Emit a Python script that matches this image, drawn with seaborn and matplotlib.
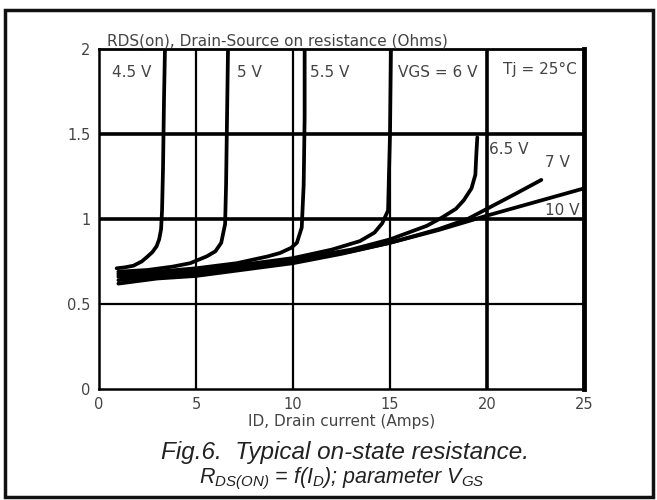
import matplotlib
matplotlib.use("Agg")
import matplotlib.pyplot as plt
import seaborn as sns
import pandas as pd
from matplotlib.patches import Rectangle

# ---- data ----
vgs_labels = ["4.5 V", "5 V", "5.5 V", "VGS = 6 V", "6.5 V", "7 V", "10 V"]

id_45 = [0.91, 1.3, 1.77, 2.2, 2.46, 2.75, 2.97, 3.1, 3.2, 3.25, 3.3, 3.35, 3.4]
r_45 = [0.71, 0.715, 0.725, 0.75, 0.775, 0.805, 0.84, 0.88, 0.94, 1.05, 1.3, 1.7, 2.0]

id_5 = [1.0, 2.5, 3.8, 4.7, 5.55, 6.0, 6.3, 6.5, 6.55, 6.6, 6.65]
r_5 = [0.69, 0.70, 0.72, 0.74, 0.78, 0.81, 0.86, 0.97, 1.2, 1.6, 2.0]

id_55 = [1.0, 3.0, 5.0, 7.1, 7.9, 8.7, 9.33, 9.9, 10.2, 10.45, 10.55, 10.6, 10.6]
r_55 = [0.68, 0.69, 0.71, 0.74, 0.76, 0.78, 0.80, 0.83, 0.86, 0.95, 1.2, 1.6, 2.0]

id_6 = [1.0, 3.0, 5.0, 8.0, 10.0, 12.0, 13.45, 14.2, 14.6, 14.9, 15.0, 15.05]
r_6 = [0.67, 0.68, 0.70, 0.74, 0.77, 0.82, 0.87, 0.92, 0.975, 1.05, 1.5, 2.0]

id_65 = [1.0, 3.0, 5.0, 8.0, 10.0, 13.0, 15.0, 16.9, 17.7, 18.4, 18.8, 19.2, 19.4, 19.45, 19.5]
r_65 = [0.66, 0.675, 0.69, 0.73, 0.76, 0.82, 0.88, 0.96, 1.01, 1.06, 1.11, 1.18, 1.26, 1.38, 1.48]

id_7 = [1.0, 3.0, 5.0, 8.0, 10.0, 13.0, 15.0, 17.5, 19.0, 20.0, 21.5, 22.8]
r_7 = [0.64, 0.665, 0.68, 0.72, 0.75, 0.81, 0.86, 0.94, 1.00, 1.06, 1.15, 1.23]

id_10 = [1.0, 3.0, 5.0, 7.0, 10.0, 12.5, 15.0, 17.5, 20.0, 22.5, 25.0]
r_10 = [0.62, 0.65, 0.665, 0.695, 0.74, 0.795, 0.86, 0.935, 1.02, 1.10, 1.18]

curves = [(id_45, r_45), (id_5, r_5), (id_55, r_55), (id_6, r_6),
          (id_65, r_65), (id_7, r_7), (id_10, r_10)]

x_ticks = [0, 5, 10, 15, 20, 25]
y_ticks = [0, 0.5, 1, 1.5, 2]
y_tick_labels = ["0", "0.5", "1", "1.5", "2"]

rows = []
for lab, (xs, ys) in zip(vgs_labels, curves):
    for i, (xv, yv) in enumerate(zip(xs, ys)):
        rows.append({"vgs": lab, "order": i, "id": xv, "rds": yv})
df = pd.DataFrame(rows)

sns.set_style("white")
plt.rcParams["font.family"] = ["DejaVu Sans"]
plt.rcParams["mathtext.fontset"] = "custom"
plt.rcParams["mathtext.it"] = "Liberation Sans:italic"
plt.rcParams["mathtext.rm"] = "Liberation Sans:italic"

fig = plt.figure(figsize=(6.57, 5.0), dpi=100)
ax = fig.add_axes([99 / 657, 1 - 389 / 500, 485 / 657, 340 / 500])

# grid first, then the curves on top
for xv in x_ticks[1:-1]:
    ax.axvline(xv, color="black", lw=2.6 if xv == 20 else 1.6, zorder=1)
for yv in y_ticks[1:-1]:
    ax.axhline(yv, color="black", lw=2.6 if yv in (1, 1.5) else 1.6, zorder=1)

for lab in vgs_labels:
    sub = df[df["vgs"] == lab]
    sns.lineplot(data=sub, x="id", y="rds", estimator=None, sort=False,
                 color="black", lw=2.7, ax=ax, legend=False, zorder=3)

small = 11
grey = "#444444"
ax.set_xlim(0, 25)
ax.set_ylim(0, 2)
ax.set_xticks(x_ticks)
ax.set_yticks(y_ticks)
ax.set_yticklabels(y_tick_labels)
ax.tick_params(length=0, labelsize=10.5, labelcolor=grey, pad=6)
ax.set_xlabel("ID, Drain current (Amps)", fontsize=small, color=grey, labelpad=1)
ax.set_ylabel("")
for side in ["left", "bottom"]:
    ax.spines[side].set_linewidth(1.8)
ax.spines["top"].set_linewidth(2.0)
ax.spines["right"].set_linewidth(3.5)
for s in ax.spines.values():
    s.set_color("black")

ax.text(0.4, 2.0, "RDS(on), Drain-Source on resistance (Ohms)", fontsize=small,
        color=grey, va="bottom", ha="left")

txt = dict(fontsize=small, color=grey, va="center")
ax.text(0.65, 1.86, "4.5 V", **txt)
ax.text(7.1, 1.86, "5 V", **txt)
ax.text(10.9, 1.86, "5.5 V", **txt)
ax.text(15.4, 1.86, "VGS = 6 V", **txt)
ax.text(20.8, 1.88, "Tj = 25°C", **txt)
ax.text(20.1, 1.41, "6.5 V", **txt)
ax.text(23.0, 1.33, "7 V", **txt)
ax.text(23.0, 1.05, "10 V", **txt)

fig.text(345 / 657, 1 - 452 / 500, "Fig.6.  Typical on-state resistance.",
         fontsize=17.5, style="italic", color="#222222", ha="center", va="center",
         family="Liberation Sans")
fig.text(342 / 657, 1 - 479 / 500,
         r"$R_{DS(ON)}$ = f($I_D$); parameter $V_{GS}$",
         fontsize=15.5, style="italic", color="#222222", ha="center", va="center",
         family="Liberation Sans")

fig.patches.append(Rectangle((5 / 657, 3 / 500), 648 / 657, 487 / 500,
                             transform=fig.transFigure, fill=False,
                             edgecolor="#111111", lw=2.5))

fig.savefig("out.png", dpi=100)
